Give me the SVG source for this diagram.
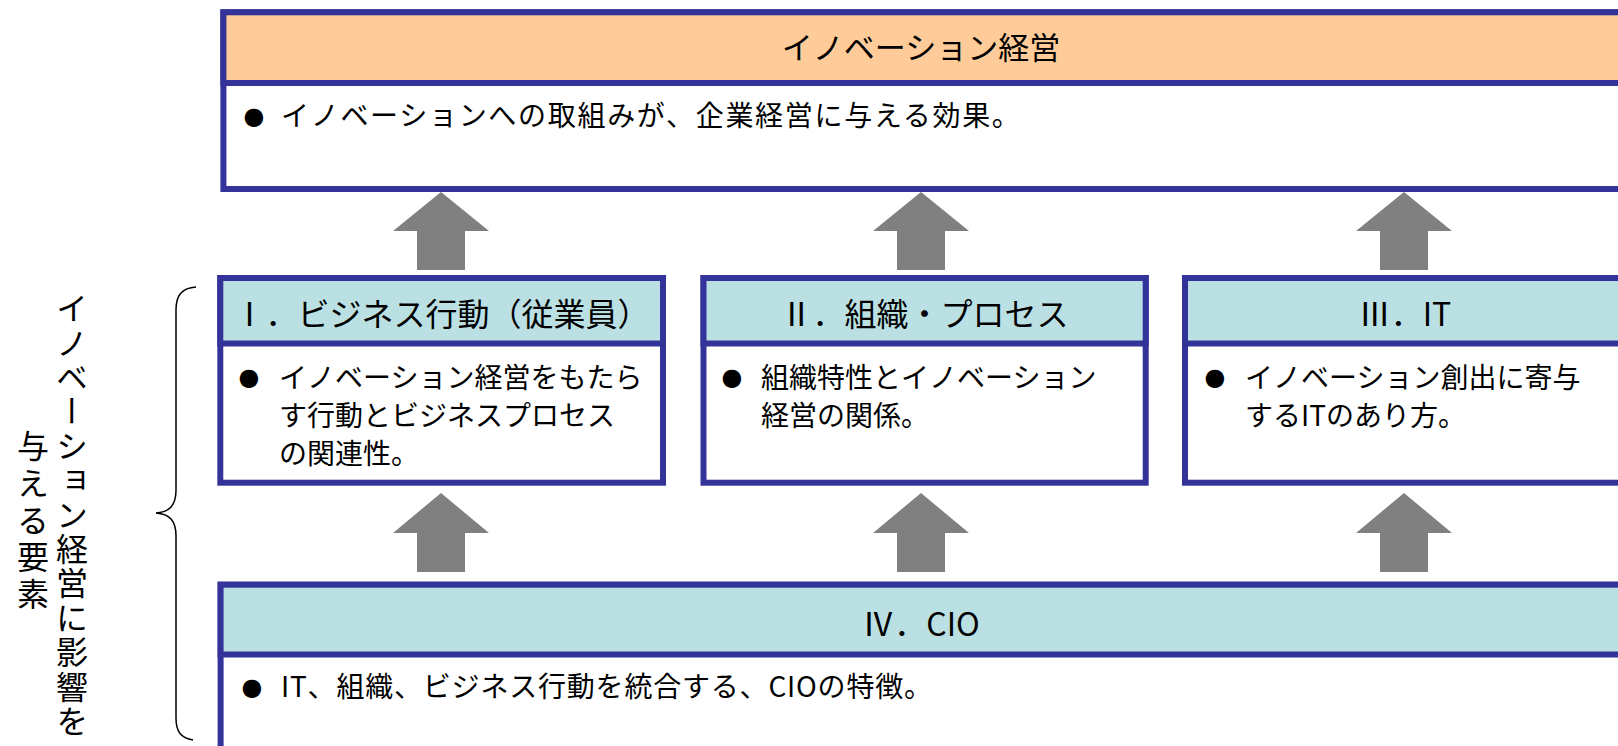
<svg xmlns="http://www.w3.org/2000/svg" width="1618" height="746" viewBox="0 0 1618 746">
<style>
.box{fill:#fff;stroke:#333399;stroke-width:6}
.ho{fill:#FFCC99;stroke:#333399;stroke-width:6}
.hc{fill:#BBE0E3;stroke:#333399;stroke-width:6}
.t{font-family:"Noto Sans CJK JP","Noto Sans CJK SC",sans-serif;fill:#000}
.h{font-size:31px;text-anchor:middle}
.h2{font-size:32px;text-anchor:middle}
.b{font-size:28px}
.bl{font-family:"DejaVu Sans",sans-serif;font-size:24px;text-anchor:middle;fill:#000}
.arr{fill:#808080}
.br{fill:none;stroke:#000;stroke-width:1.5}
.v{font-size:32px;writing-mode:vertical-rl}
</style>
<g id="label-left">
<path class="br" d="M196,287 C182,288 176,295 176,310 L176,490 C176,505 170,512 156,513 C170,514 176,521 176,536 L176,718 C176,732 181,738 193,740"/>
<text class="t v" x="72" y="292" style="letter-spacing:2.4px">イノベーション経営に影響を</text>
<text class="t v" x="33" y="430" style="letter-spacing:5px">与える要素</text>
</g>
<g id="node-top">
<rect class="box" x="223.4" y="12.3" width="1401.6" height="176.7"/>
<rect class="ho" x="223.4" y="12.3" width="1401.6" height="70.7"/>
<text class="t h" x="921" y="59">イノベーション経営</text>
<text class="bl" x="254" y="124">●</text>
<text class="t b" x="281" y="126" style="letter-spacing:1.7px">イノベーションへの取組みが、企業経営に与える効果。</text>
</g>
<g id="node-1">
<rect class="box" x="220.3" y="278" width="442.7" height="204.7"/>
<rect class="hc" x="220.3" y="278" width="442.7" height="65.5"/>
<text class="t h2" x="441.5" y="326">Ⅰ．ビジネス行動（従業員）</text>
<text class="bl" x="249" y="385">●</text>
<text class="t b" x="279" y="388">イノベーション経営をもたら</text>
<text class="t b" x="279" y="426">す行動とビジネスプロセス</text>
<text class="t b" x="279" y="464">の関連性。</text>
</g>
<g id="node-2">
<rect class="box" x="703.5" y="278" width="442.2" height="204.7"/>
<rect class="hc" x="703.5" y="278" width="442.2" height="65.5"/>
<text class="t h2" x="924.6" y="326">Ⅱ．組織・プロセス</text>
<text class="bl" x="732" y="385">●</text>
<text class="t b" x="761" y="388">組織特性とイノベーション</text>
<text class="t b" x="761" y="426">経営の関係。</text>
</g>
<g id="node-3">
<rect class="box" x="1185" y="278" width="443" height="204.7"/>
<rect class="hc" x="1185" y="278" width="443" height="65.5"/>
<text class="t h2" x="1405" y="326">Ⅲ．IT</text>
<text class="bl" x="1215" y="385">●</text>
<text class="t b" x="1245" y="388">イノベーション創出に寄与</text>
<text class="t b" x="1245" y="426">するITのあり方。</text>
</g>
<g id="node-4">
<rect class="box" x="220.6" y="584.7" width="1410" height="200"/>
<rect class="hc" x="220.6" y="584.7" width="1410" height="69.8"/>
<text class="t h2" x="921" y="636">Ⅳ．CIO</text>
<text class="bl" x="252" y="695">●</text>
<text class="t b" x="281" y="697" style="letter-spacing:0.8px">IT、組織、ビジネス行動を統合する、CIOの特徴。</text>
</g>
<g id="connectors">
<polygon class="arr" points="441,192 489,231 465,231 465,270 417,270 417,231 393,231"/>
<polygon class="arr" points="921,192 969,231 945,231 945,270 897,270 897,231 873,231"/>
<polygon class="arr" points="1404,192 1452,231 1428,231 1428,270 1380,270 1380,231 1356,231"/>
<polygon class="arr" points="441,493 489,533 465,533 465,572 417,572 417,533 393,533"/>
<polygon class="arr" points="921,493 969,533 945,533 945,572 897,572 897,533 873,533"/>
<polygon class="arr" points="1404,493 1452,533 1428,533 1428,572 1380,572 1380,533 1356,533"/>
</g>
</svg>
